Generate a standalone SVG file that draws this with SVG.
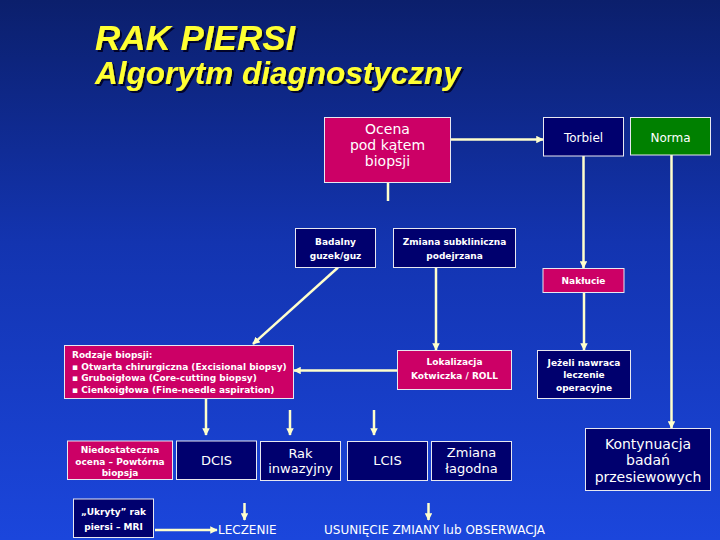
<svg xmlns="http://www.w3.org/2000/svg" width="720" height="540" viewBox="0 0 720 540">
  <defs>
    <linearGradient id="bg" x1="0" y1="0" x2="0" y2="1">
      <stop offset="0" stop-color="#0b1f6c"/>
      <stop offset="0.45" stop-color="#1334b0"/>
      <stop offset="1" stop-color="#1b46dc"/>
    </linearGradient>
    <filter id="sh" x="-5%" y="-20%" width="110%" height="150%">
      <feDropShadow dx="2" dy="2" stdDeviation="0.4" flood-color="#000022" flood-opacity="0.9"/>
    </filter>
    <marker id="ah" viewBox="0 0 10 10" refX="9" refY="5" markerWidth="3" markerHeight="3" orient="auto" markerUnits="strokeWidth">
      <path d="M0,0 L10,5 L0,10 z" fill="#ffffcc"/>
    </marker>
    <style>
      .mag { fill: #cc0066; stroke: #e8e8f0; stroke-width: 1; }
      .nav { fill: #00006e; stroke: #e8e8f0; stroke-width: 1; }
      .grn { fill: #008000; stroke: #e8e8f0; stroke-width: 1; }
      .t { fill: #ffffff; font-family: "DejaVu Sans", Verdana, sans-serif; text-anchor: middle; }
      .r14 { font-size: 14px; }
      .r13 { font-size: 13px; }
      .r12 { font-size: 12px; }
      .b9 { font-size: 9px; font-weight: bold; }
      .tl { text-anchor: start; }
      .title { font-family: "Liberation Sans", Arial, sans-serif; font-weight: bold; font-style: italic; fill: #ffff33; filter: url(#sh); }
      .c line { stroke: #ffffcc; stroke-width: 2.5; fill: none; }
      .c .a { marker-end: url(#ah); }
      .plain { fill: #ffffff; font-family: "DejaVu Sans", Verdana, sans-serif; font-size: 12px; }
    </style>
  </defs>

  <rect x="0" y="0" width="720" height="540" fill="url(#bg)"/>

  <g id="title">
    <text class="title" x="95" y="50" font-size="35">RAK PIERSI</text>
    <text class="title" x="95" y="84" font-size="31.5">Algorytm diagnostyczny</text>
  </g>

  <g class="c" id="connectors">
    <line class="a" x1="451" y1="139.5" x2="543" y2="139.5"/>
    <line x1="388" y1="182" x2="388" y2="201"/>
    <line class="a" x1="583.5" y1="156" x2="583.5" y2="268"/>
    <line class="a" x1="671.5" y1="155" x2="671.5" y2="428"/>
    <line class="a" x1="338" y1="267.5" x2="253" y2="344"/>
    <line class="a" x1="436" y1="267.5" x2="436" y2="350"/>
    <line class="a" x1="584" y1="293" x2="584" y2="350"/>
    <line class="a" x1="397" y1="370.5" x2="294" y2="370.5"/>
    <line class="a" x1="206" y1="398.5" x2="206" y2="435"/>
    <line class="a" x1="290" y1="410" x2="290" y2="435"/>
    <line class="a" x1="374" y1="410" x2="374" y2="435"/>
    <line class="a" x1="244.5" y1="503" x2="244.5" y2="520"/>
    <line class="a" x1="428.5" y1="503" x2="428.5" y2="520"/>
    <line class="a" x1="155" y1="530" x2="217" y2="530"/>
  </g>

  <g id="ocena">
    <rect class="mag" x="324.5" y="117.5" width="126" height="65"/>
    <text class="t r14" x="387.5" y="134">Ocena</text>
    <text class="t r14" x="387.5" y="150">pod kątem</text>
    <text class="t r14" x="387.5" y="166">biopsji</text>
  </g>

  <g id="torbiel">
    <rect class="nav" x="543.5" y="117.5" width="80" height="38.5"/>
    <text class="t r12" x="583.5" y="142">Torbiel</text>
  </g>

  <g id="norma">
    <rect class="grn" x="630.5" y="117.5" width="80" height="37.5"/>
    <text class="t r12" x="670.5" y="142">Norma</text>
  </g>

  <g id="badalny">
    <rect class="nav" x="295.5" y="228.5" width="80" height="39"/>
    <text class="t b9" x="335.5" y="245">Badalny</text>
    <text class="t b9" x="335.5" y="258.5">guzek/guz</text>
  </g>

  <g id="subkliniczna">
    <rect class="nav" x="393.5" y="228.5" width="122" height="39"/>
    <text class="t b9" x="454.5" y="245">Zmiana subkliniczna</text>
    <text class="t b9" x="454.5" y="258.5">podejrzana</text>
  </g>

  <g id="naklucie">
    <rect class="mag" x="543" y="268.5" width="81" height="24"/>
    <text class="t b9" x="583.5" y="283.5">Nakłucie</text>
  </g>

  <g id="rodzaje">
    <rect class="mag" x="64.5" y="345.5" width="229" height="53"/>
    <text class="t b9 tl" x="72" y="357.5">Rodzaje biopsji:</text>
    <text class="t b9 tl" x="72" y="369.5">▪ Otwarta chirurgiczna (Excisional biopsy)</text>
    <text class="t b9 tl" x="72" y="381">▪ Gruboigłowa (Core-cutting biopsy)</text>
    <text class="t b9 tl" x="72" y="392.5">▪ Cienkoigłowa (Fine-needle aspiration)</text>
  </g>

  <g id="lokalizacja">
    <rect class="mag" x="397.5" y="350.5" width="114" height="39"/>
    <text class="t b9" x="454.5" y="364.5">Lokalizacja</text>
    <text class="t b9" x="454.5" y="378.5">Kotwiczka / ROLL</text>
  </g>

  <g id="jezeli">
    <rect class="nav" x="537.5" y="350.5" width="93" height="48"/>
    <text class="t b9" x="584" y="365.5">Jeżeli nawraca</text>
    <text class="t b9" x="584" y="378">leczenie</text>
    <text class="t b9" x="584" y="390.5">operacyjne</text>
  </g>

  <g id="niedostateczna">
    <rect class="mag" x="67.5" y="441" width="105" height="38.5"/>
    <text class="t b9" x="120" y="453">Niedostateczna</text>
    <text class="t b9" x="120" y="464.5">ocena – Powtórna</text>
    <text class="t b9" x="120" y="476">biopsja</text>
  </g>

  <g id="dcis">
    <rect class="nav" x="176.5" y="441" width="80" height="38.5"/>
    <text class="t r13" x="216.5" y="464.5">DCIS</text>
  </g>

  <g id="inwazyjny">
    <rect class="nav" x="260.5" y="441.5" width="80" height="39"/>
    <text class="t r13" x="300.5" y="457.5">Rak</text>
    <text class="t r13" x="300.5" y="473">inwazyjny</text>
  </g>

  <g id="lcis">
    <rect class="nav" x="347.5" y="441.5" width="80" height="39"/>
    <text class="t r13" x="387.5" y="465">LCIS</text>
  </g>

  <g id="lagodna">
    <rect class="nav" x="431.5" y="441.5" width="80" height="39"/>
    <text class="t r13" x="471.5" y="457">Zmiana</text>
    <text class="t r13" x="471.5" y="473">łagodna</text>
  </g>

  <g id="ukryty">
    <rect class="nav" x="73.5" y="499" width="80" height="38.5"/>
    <text class="t b9" x="113.5" y="514.5">„Ukryty” rak</text>
    <text class="t b9" x="113.5" y="530">piersi – MRI</text>
  </g>

  <g id="kontynuacja">
    <rect class="nav" x="585.5" y="428.5" width="125" height="62"/>
    <text class="t r14" x="648" y="448.5">Kontynuacja</text>
    <text class="t r14" x="648" y="465">badań</text>
    <text class="t r14" x="648" y="481.5">przesiewowych</text>
  </g>

  <g id="leczenie">
    <text class="plain" x="218" y="534">LECZENIE</text>
  </g>

  <g id="usuniecie">
    <text class="plain" x="324" y="534">USUNIĘCIE ZMIANY lub OBSERWACJA</text>
  </g>
</svg>
